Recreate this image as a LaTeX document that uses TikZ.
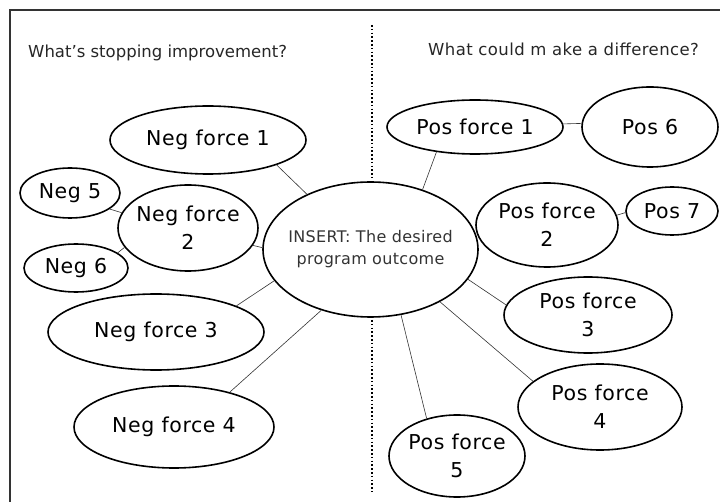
\documentclass[tikz,border=0pt]{standalone}
\usepackage{fontspec}
\setmainfont{DejaVu Sans}[LetterSpace=3]
\newfontfamily\hdrfont{DejaVu Sans}
\newfontfamily\hdrwide{DejaVu Sans}[LetterSpace=2.5]
\newfontfamily\ctrfont{DejaVu Sans}[LetterSpace=2]
\usetikzlibrary{shapes.geometric}
\tikzset{
  force/.style={ellipse, draw, line width=1.6pt, inner sep=-4pt, align=center,
    font=\fontsize{20.5}{28}\selectfont},
  link/.style={line width=0.6pt, black!80},
  frame/.style={line width=1.4pt, black!80},
  divider/.style={line width=2pt, dash pattern=on 1.6pt off 2.2pt},
  header/.style={anchor=west, inner sep=0pt, black!85}
}
\begin{document}
\begin{tikzpicture}[x=1pt,y=-1pt]
\useasboundingbox (0,0) rectangle (720,502);
% frame
\draw[frame] (10,502) -- (10,10) -- (720,10);
% divider
\coordinate (d1) at (372,25);
\coordinate (d2) at (372,178);
\coordinate (d3) at (372,320);
\coordinate (d4) at (372,492);
\draw[divider] (d1) -- (d2);
\draw[divider] (d3) -- (d4);
% headers
\node[header, font=\hdrfont\fontsize{16.5}{18}\selectfont] (hl) at (28,53) {What’s stopping improvement?};
\node[header, font=\hdrwide\fontsize{16.5}{18}\selectfont] (hr) at (428,49) {What could m ake a difference?};
% centre
\node[ellipse, draw, line width=1.6pt, inner sep=-12pt, minimum width=215pt, minimum height=135pt,
  align=center, font=\ctrfont\fontsize{16}{22}\selectfont, text=black!80] (c) at (370.5,249.5)
  {INSERT: The desired\\program outcome};
% negative
\node[force, minimum width=196pt, minimum height=68pt] (n1) at (208,140) {Neg force 1};
\node[force, minimum width=140pt, minimum height=86pt] (n2) at (188,228) {Neg force\\2};
\node[force, minimum width=216pt, minimum height=76pt] (n3) at (156,332) {Neg force 3};
\node[force, minimum width=200pt, minimum height=82pt] (n4) at (174,427) {Neg force 4};
\node[force, minimum width=100pt, minimum height=50pt] (n5) at (70,193) {Neg 5};
\node[force, minimum width=104pt, minimum height=48pt] (n6) at (76,268) {Neg 6};
% positive
\node[force, minimum width=176pt, minimum height=54pt] (p1) at (475,127) {Pos force 1};
\node[force, minimum width=142pt, minimum height=84pt] (p2) at (547,225) {Pos force\\2};
\node[force, minimum width=168pt, minimum height=76pt] (p3) at (588,315) {Pos force\\3};
\node[force, minimum width=164pt, minimum height=86pt] (p4) at (600,407) {Pos force\\4};
\node[force, minimum width=136pt, minimum height=82pt] (p5) at (457,456) {Pos force\\5};
\node[force, minimum width=136pt, minimum height=80pt] (p6) at (650,127) {Pos 6};
\node[force, minimum width=92pt, minimum height=48pt] (p7) at (672,211) {Pos 7};
% connectors
\draw[link] (n1.-20) -- (c.139);
\draw[link] (n5.-22) -- (n2.167);
\draw[link] (n6.20) -- (n2.197);
\draw[link] (n2.-15) -- (c.179);
\draw[link] (n3.18) -- (c.198);
\draw[link] (n4.32) -- (c.231);
\draw[link] (p1.213) -- (c.49);
\draw[link] (p1.2) -- (p6.177);
\draw[link] (p2.8) -- (p7.182);
\draw[link] (p3.173) -- (c.-17);
\draw[link] (p4.159) -- (c.-37);
\draw[link] (p5.129) -- (c.-65);
\end{tikzpicture}
\end{document}
